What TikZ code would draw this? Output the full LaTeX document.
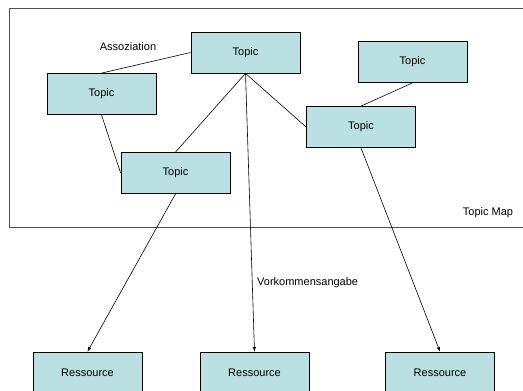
\documentclass[tikz,border=0pt]{standalone}
\usepackage{fontspec}
\setmainfont{Liberation Sans}
\usetikzlibrary{arrows, positioning}
\definecolor{mcyan}{HTML}{BBE0E3}
\definecolor{mframe}{HTML}{505050}
\tikzstyle{topic} = [rectangle, minimum width = 109pt, minimum height = 41pt, text centered, fill = mcyan, draw = black, line width = 0.8pt]
\tikzstyle{label} = [font = \fontsize{11}{13}\selectfont, inner sep = 0pt]
\tikzstyle{assoc} = [line width = 0.6pt]
\tikzstyle{occur} = [line width = 0.6pt, ->, >=latex]

\begin{document}
\begin{tikzpicture}[x=1pt, y=-1pt, font=\fontsize{11}{13}\selectfont]
  \useasboundingbox (0,0) rectangle (523,391);
  % topic map frame
  \draw [mframe, line width = 0.8pt] (9,8) rectangle (540,227);
  \node (tm) [label] at (488,213) {Topic Map};
  % topics
  \node (top) [topic] at (245.5,52.5) {Topic};
  \node (left) [topic] at (101.5,94) {Topic};
  \node (mid) [topic] at (175.5,173) {Topic};
  \node (far) [topic] at (412.5,62) {Topic};
  \node (right) [topic] at (361,127) {Topic};
  % resources
  \node (res1) [topic] at (87.5,372.5) {Ressource};
  \node (res2) [topic] at (254.5,372.5) {Ressource};
  \node (res3) [topic] at (440,372.5) {Ressource};
  \node (assoclabel) [label] at (128,47) {Assoziation};
  \node (occlabel) [label, anchor = west] at (257,283) {Vorkommensangabe};
  % associations
  \draw [assoc] (left.north) -- (top.west);
  \draw [assoc] (left.south) -- (mid.west);
  \draw [assoc] (top.south) -- (mid.north);
  \draw [assoc] (top.south) -- (right.west);
  \draw [assoc] (far.south) -- (right.north);
  % occurrences
  \draw [occur] (mid.south) -- (res1.north);
  \draw [occur] (top.south) -- (res2.north);
  \draw [occur] (right.south) -- (res3.north);
\end{tikzpicture}
\end{document}
